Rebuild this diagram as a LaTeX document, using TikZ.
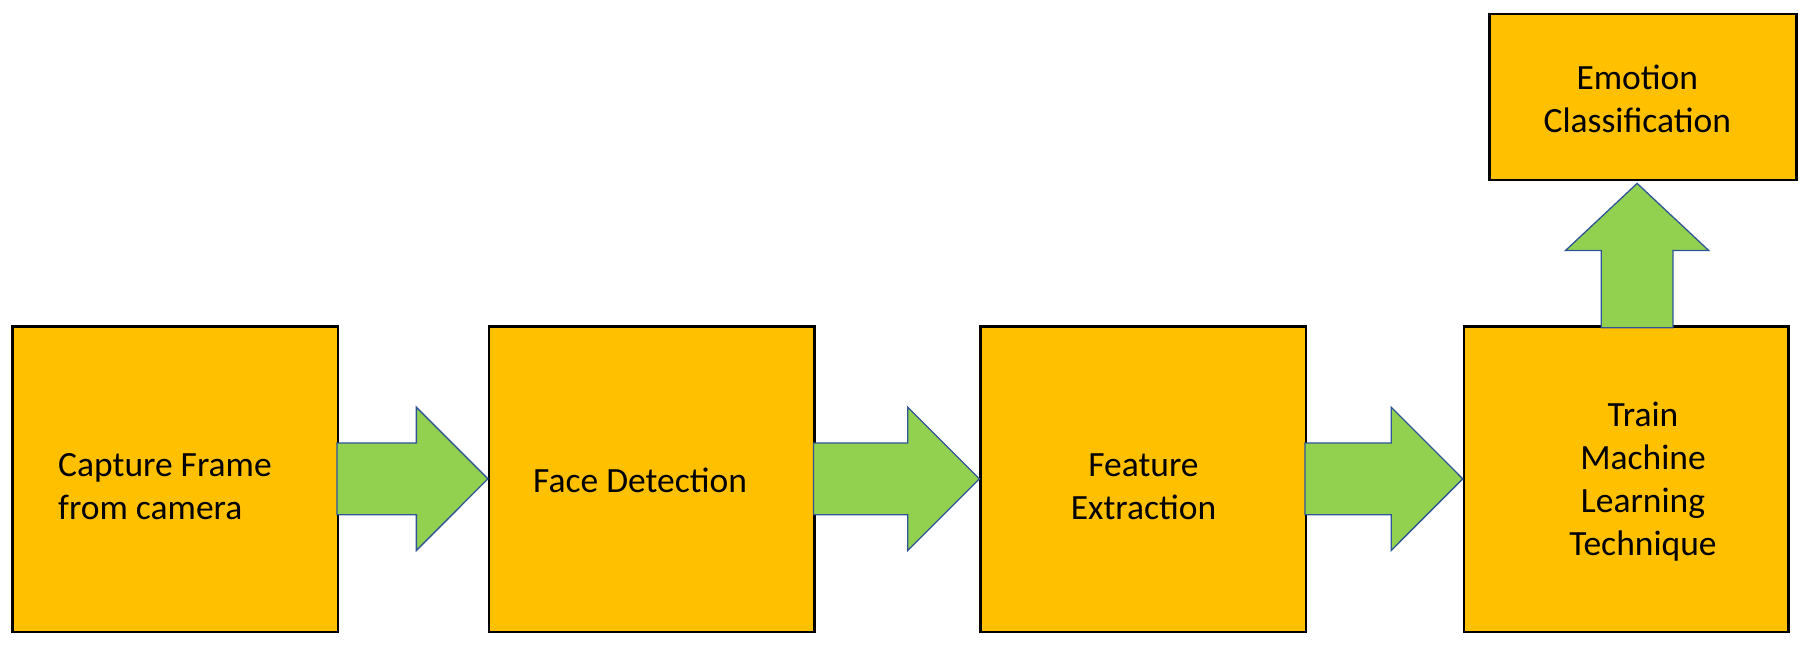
\documentclass[tikz,border=0pt]{standalone}
\usepackage{fontspec}
\setmainfont{Carlito}
\usetikzlibrary{calc}
\definecolor{boxorange}{HTML}{FFC000}
\definecolor{arrowgreen}{HTML}{92D050}
\definecolor{arrowblue}{HTML}{2F5597}
\begin{document}
\begin{tikzpicture}[x=1pt,y=-1pt,
  box/.style={rectangle,draw=black,fill=boxorange,line width=2.5pt,inner sep=0pt},
  blockarrow/.style={fill=arrowgreen,draw=arrowblue,line width=1.3pt,line join=miter},
  lbl/.style={font=\fontsize{35.5}{43}\selectfont,inner sep=0pt,text=black,text depth=0pt}]
\useasboundingbox (0,0) rectangle (1809,650);
\fill[white] (0,0) rectangle (1809,650);
% boxes
\node[box,minimum width=325.3pt,minimum height=305.7pt] (b1) at (175.35,479.35) {};
\node[box,minimum width=325.3pt,minimum height=305.7pt] (b2) at (651.85,479.35) {};
\node[box,minimum width=325.4pt,minimum height=305.7pt] (b3) at (1143.3,479.35) {};
\node[box,minimum width=324.3pt,minimum height=305.7pt] (b4) at (1626.15,479.35) {};
\node[box,minimum width=306.9pt,minimum height=166.2pt] (b5) at (1642.85,96.9) {};
% horizontal block arrows
\foreach \a/\b in {b1/b2,b2/b3,b3/b4}{
  \draw[blockarrow] ($(\a.east)+(-2.3,-36.3)$) -- ($(\b.west)+(-71.6,-36.3)$)
    -- ($(\b.west)+(-71.6,-72.15)$) -- ($(\b.west)+(0,-0.5)$)
    -- ($(\b.west)+(-71.6,71.15)$) -- ($(\b.west)+(-71.6,35.3)$)
    -- ($(\a.east)+(-2.3,35.3)$) -- cycle;
}
% upward block arrow
\coordinate (uptip) at (1637.1,183.4);
\coordinate (upbase) at (1637.1,327.8);
\draw[blockarrow] ($(upbase)+(-35.8,0)$) -- ($(uptip)+(-35.8,67)$)
  -- ($(uptip)+(-71.5,67)$) -- (uptip) -- ($(uptip)+(71.5,67)$)
  -- ($(uptip)+(35.8,67)$) -- ($(upbase)+(35.8,0)$) -- cycle;
% labels (placed by the baseline of their last line)
\node[lbl,anchor=south west,align=left] (t1) at (58,520) {Capture Frame\\from camera};
\node[lbl,anchor=south west] (t2) at (533,492.5) {Face Detection};
\node[lbl,anchor=south,align=center] (t3) at (1143.5,520) {Feature\\Extraction};
\node[lbl,anchor=south,align=center] (t4) at (1643,556) {Train\\Machine\\Learning\\Technique};
\node[lbl,anchor=south,align=center] (t5) at (1637.3,133) {Emotion\\Classification};
\end{tikzpicture}
\end{document}
